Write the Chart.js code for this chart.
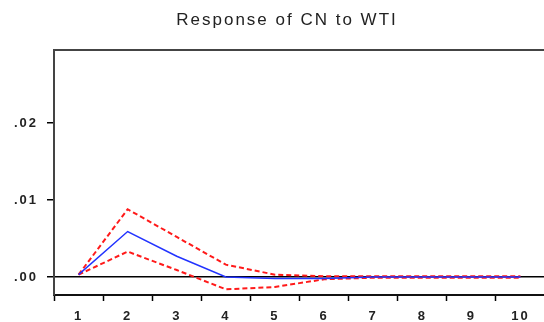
<!DOCTYPE html>
<html>
<head>
<meta charset="utf-8">
<script src="https://cdn.jsdelivr.net/npm/chart.js@4/dist/chart.umd.min.js"></script>
<style>
  html, body { margin: 0; padding: 0; background: #fff; overflow: hidden; }
  #wrap { width: 548px; height: 322px; }
</style>
</head>
<body>
<div id="wrap"><canvas id="irfChart" width="548" height="322"></canvas></div>
<script>
// Impulse response: CN after a WTI shock, 10 periods, with +/- 2 S.E. bands
const periodos = ['1','2','3','4','5','6','7','8','9','10'];
const resposta = [0.0003, 0.0059, 0.0027, 0.0000, -0.0002, -0.0002, 0.0000, 0.0000, 0.0000, 0.0000];
const bandaSup = [0.0003, 0.0088, 0.0052, 0.0016, 0.0003, 0.0001, 0.0001, 0.0001, 0.0001, 0.0001];
const bandaInf = [0.0003, 0.0033, 0.0009, -0.0016, -0.0013, -0.0003, -0.0001, -0.0001, -0.0001, -0.0001];

const yTickValues = [0, 0.01, 0.02];
const yTickLabels = ['.00', '.01', '.02'];
const titulo = 'Response of CN to WTI';

const fonteEixo = { family: '"Liberation Sans", Arial, sans-serif', size: 13, weight: 'bold' };

// letter spacing for the whole canvas, plus the spaced-out title and the top frame line
const estiloPlugin = {
  id: 'estilo',
  beforeDraw(chart) {
    chart.ctx.letterSpacing = '2px';
  },
  afterDraw(chart) {
    const ctx = chart.ctx;
    const a = chart.chartArea;
    ctx.save();
    ctx.strokeStyle = '#444';
    ctx.lineWidth = 2;
    ctx.beginPath();
    ctx.moveTo(a.left - 1, a.top);
    ctx.lineTo(chart.width, a.top);
    ctx.stroke();
    ctx.font = '17px "Liberation Sans", Arial, sans-serif';
    ctx.letterSpacing = '2px';
    ctx.fillStyle = '#222';
    ctx.textAlign = 'center';
    ctx.textBaseline = 'alphabetic';
    ctx.fillText(titulo, 287, 25);
    ctx.restore();
  }
};

const tracejado = { borderColor: '#ff1a1a', borderWidth: 2, borderDash: [5, 3], pointRadius: 0, tension: 0, fill: false };

new Chart(document.getElementById('irfChart'), {
  type: 'line',
  data: {
    labels: periodos,
    datasets: [
      { label: 'Resposta', data: resposta, borderColor: '#2233ff', borderWidth: 1.5, pointRadius: 0, tension: 0, fill: false },
      Object.assign({ label: '+2 S.E.', data: bandaSup }, tracejado),
      Object.assign({ label: '-2 S.E.', data: bandaInf }, tracejado)
    ]
  },
  options: {
    responsive: false,
    animation: false,
    events: [],
    layout: { padding: { top: 50, right: 3, left: 0, bottom: 0 } },
    plugins: { legend: { display: false }, title: { display: false }, tooltip: { enabled: false } },
    scales: {
      x: {
        type: 'category',
        offset: true,
        grid: { offset: true, drawOnChartArea: false, drawTicks: true, tickLength: 6, tickColor: '#000', tickWidth: 1.5 },
        border: { display: true, color: '#111', width: 2 },
        ticks: { font: fonteEixo, color: '#222', padding: 8, autoSkip: false, maxRotation: 0 },
        afterFit(scale) { scale.height = 27; }
      },
      y: {
        type: 'linear',
        min: -0.00234,
        max: 0.02948,
        afterBuildTicks(scale) { scale.ticks = yTickValues.map(v => ({ value: v })); },
        grid: {
          color: c => (c.tick && c.tick.value === 0 ? '#000' : 'rgba(0,0,0,0)'),
          lineWidth: 1.5,
          drawTicks: true,
          tickLength: 7,
          tickColor: '#000',
          tickWidth: 1.5
        },
        border: { display: true, color: '#444', width: 2 },
        ticks: {
          font: fonteEixo,
          color: '#222',
          padding: 9,
          callback: (v) => yTickLabels[yTickValues.indexOf(v)]
        },
        afterFit(scale) { scale.width = 54; }
      }
    }
  },
  plugins: [estiloPlugin]
});
</script>
</body>
</html>
